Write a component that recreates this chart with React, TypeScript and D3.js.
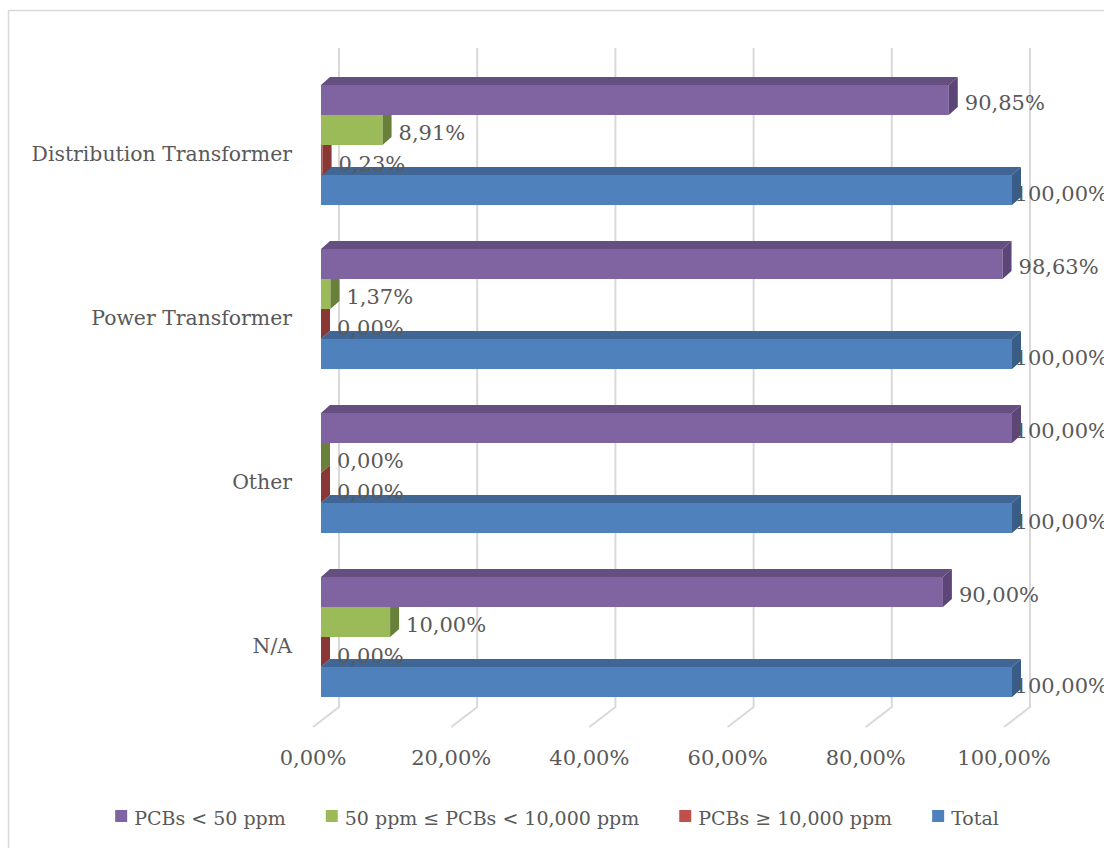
import React, { useEffect, useRef } from "react";
import * as d3 from "d3";

const categories = ["Distribution Transformer", "Power Transformer", "Other", "N/A"];
const seriesNames = ["PCBs < 50 ppm", "50 ppm ≤ PCBs < 10,000 ppm", "PCBs ≥ 10,000 ppm", "Total"];
const below50 = [90.85, 98.63, 100.0, 90.0];
const between50and10000 = [8.91, 1.37, 0.0, 10.0];
const above10000 = [0.23, 0.0, 0.0, 0.0];
const totalValues = [100.0, 100.0, 100.0, 100.0];
const tickValues = [0, 20, 40, 60, 80, 100];

const seriesValues = [below50, between50and10000, above10000, totalValues];
const seriesColors = [
  { front: "#8064A2", top: "#654F80", side: "#5B4677" },
  { front: "#9BBB59", top: "#7A9446", side: "#68803A" },
  { front: "#C0504D", top: "#98403D", side: "#8A3835" },
  { front: "#4F81BD", top: "#3F6694", side: "#385D89" },
];

const W = 1104;
const H = 848;
const FONT = "'DejaVu Serif', serif";
const TEXT = "#595959";
const GRID = "#D9D9D9";

const fmt = (v: number) => v.toFixed(2).replace(".", ",") + "%";

export default function App() {
  const ref = useRef<SVGSVGElement>(null);

  useEffect(() => {
    const svg = d3.select(ref.current);
    svg.selectAll("*").remove();

    const dx = 9;
    const dy = 8;
    const x = d3.scaleLinear().domain([0, 100]).range([321, 1012]);
    const yCat = d3.scaleBand<string>().domain(categories).range([63, 719]).paddingInner(0.268).paddingOuter(0.134);
    const ySer = d3.scaleBand<string>().domain(seriesNames).range([0, yCat.bandwidth()]);

    const backOffX = 18;
    const frontOffX = -8;
    const gridTop = 48;
    const backFloorY = 707;
    const frontFloorY = 727;

    // outer border
    svg.append("rect")
      .attr("x", 8.5).attr("y", 10.5).attr("width", W + 20).attr("height", H + 20)
      .attr("fill", "white").attr("stroke", GRID).attr("stroke-width", 1.5);

    // gridlines (back wall + floor)
    const grid = svg.append("g");
    tickValues.forEach((t) => {
      const xb = x(t) + backOffX;
      const xf = x(t) + frontOffX;
      grid.append("path")
        .attr("d", `M${xb},${gridTop} L${xb},${backFloorY} L${xf},${frontFloorY}`)
        .attr("fill", "none").attr("stroke", GRID).attr("stroke-width", 2);
    });

    // tick labels
    svg.append("g").selectAll("text").data(tickValues).join("text")
      .attr("x", (d) => x(d) + frontOffX)
      .attr("y", 765)
      .attr("text-anchor", "middle")
      .attr("font-family", FONT).attr("font-size", 21).attr("fill", TEXT)
      .text((d) => fmt(d));

    // category labels
    svg.append("g").selectAll("text").data(categories).join("text")
      .attr("x", 292)
      .attr("y", (d) => (yCat(d) as number) + yCat.bandwidth() / 2 + 16)
      .attr("text-anchor", "end")
      .attr("font-family", FONT).attr("font-size", 20.4).attr("fill", TEXT)
      .text((d) => d);

    // bars: draw bottom series first so upper bars occlude lower top faces
    const bars = svg.append("g");
    const order = [3, 2, 1, 0];
    categories.forEach((cat, ci) => {
      order.forEach((si) => {
        const v = seriesValues[si][ci];
        const c = seriesColors[si];
        const y0 = (yCat(cat) as number) + (ySer(seriesNames[si]) as number);
        const y1 = y0 + ySer.bandwidth();
        const x0 = x(0);
        const x1 = x(v);
        const g = bars.append("g");
        g.append("path")
          .attr("d", `M${x0},${y0} L${x0 + dx},${y0 - dy} L${x1 + dx},${y0 - dy} L${x1},${y0} Z`)
          .attr("fill", c.top);
        if (x1 > x0) {
          g.append("rect").attr("x", x0).attr("y", y0).attr("width", x1 - x0).attr("height", y1 - y0)
            .attr("fill", c.front);
        }
        g.append("path")
          .attr("d", `M${x1},${y0} L${x1 + dx},${y0 - dy} L${x1 + dx},${y1 - dy} L${x1},${y1} Z`)
          .attr("fill", c.side);
      });
    });

    // data labels
    const labels = svg.append("g");
    const rightLimit = 1108;
    categories.forEach((cat, ci) => {
      seriesNames.forEach((s, si) => {
        const v = seriesValues[si][ci];
        const y0 = (yCat(cat) as number) + (ySer(s) as number);
        const cy = y0 + ySer.bandwidth() / 2;
        const t = labels.append("text")
          .attr("x", x(v) + dx + 7)
          .attr("y", cy + 10.5)
          .attr("font-family", FONT).attr("font-size", 21).attr("fill", TEXT)
          .text(fmt(v));
        const node = t.node() as SVGTextElement;
        const w = node.getComputedTextLength();
        if (x(v) + dx + 7 + w > rightLimit) t.attr("x", rightLimit - w);
      });
    });

    // legend
    const leg = svg.append("g");
    const markerSize = 12;
    const markerGap = 7;
    const itemGap = 40;
    const items: { g: any; w: number }[] = [];
    seriesNames.forEach((s, si) => {
      const g = leg.append("g");
      g.append("rect").attr("x", 0).attr("y", 810).attr("width", markerSize).attr("height", markerSize)
        .attr("fill", seriesColors[si].front);
      const t = g.append("text").attr("x", markerSize + markerGap).attr("y", 825)
        .attr("font-family", FONT).attr("font-size", 19).attr("fill", TEXT).text(s);
      const w = markerSize + markerGap + (t.node() as SVGTextElement).getComputedTextLength();
      items.push({ g, w });
    });
    const totalW = d3.sum(items, (d) => d.w) + itemGap * (items.length - 1);
    let cx = 557 - totalW / 2;
    items.forEach((it) => {
      it.g.attr("transform", `translate(${cx},0)`);
      cx += it.w + itemGap;
    });
  }, []);

  return (
    <svg
      ref={ref}
      width={W}
      height={H}
      style={{ position: "absolute", left: 0, top: 0, display: "block", background: "white" }}
    />
  );
}
